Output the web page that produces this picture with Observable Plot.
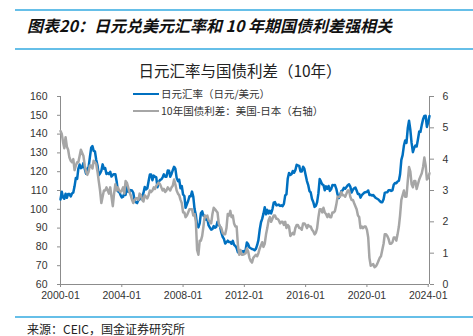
<!DOCTYPE html>
<html><head><meta charset="utf-8">
<script src="https://cdn.jsdelivr.net/npm/d3@7"></script>
<script src="https://cdn.jsdelivr.net/npm/@observablehq/plot@0.6"></script>
<style>
html,body{margin:0;padding:0;background:#fff;}
body{width:473px;height:336px;overflow:hidden;position:relative;font-family:"Noto Sans CJK SC","Liberation Sans",sans-serif;}
#chart{position:absolute;left:0;top:0;}
.rule{position:absolute;left:15px;width:470px;height:0;border-top:2px solid #66bfe8;}
#title{position:absolute;left:27px;top:15px;font-size:16px;font-weight:bold;font-style:italic;color:#111;white-space:nowrap;line-height:20px;}
#ctitle{position:absolute;left:0;width:480px;text-align:center;top:60px;font-size:15.5px;color:#222;line-height:20px;white-space:nowrap;}
.leg{position:absolute;left:133px;font-size:10.5px;color:#333;white-space:nowrap;line-height:14px;}
.leg span{display:inline-block;width:26px;height:0;border-top:2px solid;vertical-align:middle;margin-right:2px;position:relative;top:-1px;}
#source{position:absolute;left:27px;top:321px;font-size:12px;color:#222;white-space:nowrap;line-height:15px;}
</style>
</head><body>
<div class="rule" style="top:9px"></div>
<div id="title">图表20：日元兑美元汇率和 10 年期国债利差强相关</div>
<div class="rule" style="top:48px"></div>
<div id="chart"></div>
<div id="ctitle">日元汇率与国债利差（10年）</div>
<div class="leg" id="leg1" style="top:87px"></div>
<div class="leg" id="leg2" style="top:104px"></div>
<div class="rule" style="top:316px"></div>
<div id="source">来源：CEIC，国金证券研究所</div>
<script>
// Monthly series, starting 2000-01
const startYear = 2000;
const seriesNames = ["日元汇率（日元/美元）", "10年国债利差：美国-日本（右轴）"];
const seriesColors = ["#0070c0", "#a6a6a6"];
const usdjpy = [
105.2,109.3,106.3,105.6,108.3,106.1,108.2,108.1,106.8,108.4,108.9,112.2,
116.7,116.2,121.5,123.8,121.9,122.4,124.6,121.5,118.9,121.5,122.4,127.6,
132.7,133.6,131.1,130.8,126.4,123.3,118.1,119.0,120.5,123.9,121.6,121.9,
118.8,119.3,118.7,119.9,117.4,118.3,118.7,118.7,114.8,109.5,109.2,107.7,
106.3,106.7,108.5,107.7,112.2,109.4,109.4,110.2,110.0,108.8,104.7,103.8,
103.3,104.9,105.3,107.3,106.7,108.7,111.9,110.6,111.2,114.9,118.5,118.5,
115.5,117.9,117.3,117.1,111.7,114.6,115.6,115.9,117.0,118.6,117.3,117.3,
120.6,120.5,117.3,118.8,120.8,122.6,121.6,116.7,115.0,115.8,111.2,112.4,
107.9,107.1,100.8,102.7,104.4,106.9,106.9,109.4,106.6,100.1,96.9,91.3,
90.4,92.6,97.9,98.9,96.6,96.6,94.5,94.9,91.4,90.3,89.2,89.5,
91.1,90.2,90.6,93.4,91.8,90.9,87.7,85.4,84.3,81.8,82.5,83.3,
82.6,82.6,81.7,83.2,81.1,80.5,79.3,77.1,76.9,76.7,77.5,77.8,
76.9,78.5,82.4,81.4,79.7,79.3,78.9,78.7,78.2,78.9,80.9,83.6,
89.1,93.1,94.9,97.7,101.1,97.3,99.7,97.8,99.2,97.8,100.1,103.5,
103.8,102.1,102.3,102.5,101.8,102.1,101.7,102.9,107.4,108.0,116.4,119.3,
118.3,118.8,120.4,119.5,120.8,123.7,123.3,123.1,120.1,120.1,122.6,121.6,
118.2,115.0,113.0,109.7,109.0,105.5,103.9,101.3,101.9,103.8,108.6,116.1,
114.7,113.2,112.9,110.1,112.2,110.9,112.4,109.8,110.8,112.9,112.8,112.9,
110.9,107.8,106.0,107.6,109.7,110.1,111.4,111.0,111.9,112.8,113.3,112.1,
108.9,110.4,111.2,111.6,110.0,108.1,108.2,106.2,107.5,108.2,108.9,109.1,
109.3,110.0,107.6,107.8,107.3,107.6,106.7,106.0,105.6,105.2,104.4,103.8,
103.8,105.4,108.7,109.0,109.1,110.1,110.2,109.8,110.1,113.1,114.0,113.9,
114.8,115.2,118.5,126.3,128.8,133.9,136.6,135.3,143.1,147.1,142.3,135.3,
130.4,132.7,133.9,133.4,137.1,141.4,141.2,144.9,147.9,149.7,149.8,143.8,
146.3,149.6
];
const spread10y = [
4.9,4.8,4.55,4.35,4.7,4.4,4.3,4.05,3.95,3.9,4.0,3.65,
3.8,3.9,3.9,4.1,4.3,4.2,4.1,3.8,3.6,3.5,3.6,3.8,
3.8,3.7,3.95,3.9,3.85,3.6,3.3,3.0,2.6,2.8,3.0,3.0,
3.1,3.0,2.9,3.1,2.8,2.5,2.9,3.2,3.0,3.1,3.0,2.95,
3.0,3.1,2.9,3.3,3.25,3.1,2.95,2.85,2.7,2.6,2.7,2.75,
2.75,2.7,2.9,2.85,2.7,2.65,2.85,2.8,2.75,2.85,3.0,2.95,
3.0,3.1,3.05,3.15,3.2,3.25,3.2,3.1,3.0,3.05,2.95,3.0,
3.1,3.05,3.0,3.1,3.15,3.35,3.2,3.0,2.9,2.85,2.7,2.6,
2.3,2.3,2.15,2.2,2.3,2.4,2.4,2.4,2.2,2.25,2.0,1.1,
0.95,1.4,1.4,1.55,1.85,2.2,2.15,2.2,2.05,2.0,1.95,2.25,
2.45,2.4,2.35,2.3,1.95,1.85,1.8,1.65,1.6,1.6,1.8,2.25,
2.2,2.35,2.15,2.2,1.95,1.85,1.85,1.25,0.95,1.1,0.95,0.95,
0.97,1.0,1.15,1.05,0.85,0.75,0.7,0.85,0.9,0.95,0.9,1.0,
1.15,1.25,1.35,1.2,1.3,1.6,1.8,2.05,2.15,2.0,2.1,2.2,
2.2,2.1,2.1,2.05,1.95,2.0,2.0,1.9,2.0,1.8,1.9,1.85,
1.55,1.6,1.65,1.6,1.8,1.9,1.9,1.8,1.8,1.75,1.95,1.95,
1.9,1.8,1.9,1.85,1.85,1.75,1.7,1.6,1.65,1.8,2.15,2.4,
2.4,2.3,2.45,2.3,2.25,2.15,2.25,2.15,2.15,2.3,2.3,2.35,
2.55,2.8,2.8,2.8,2.95,2.85,2.85,2.8,2.9,3.0,3.0,2.8,
2.7,2.7,2.6,2.5,2.4,2.2,2.15,1.8,1.85,1.8,1.85,1.85,
1.75,1.5,0.85,0.6,0.62,0.65,0.55,0.58,0.65,0.75,0.85,0.9,
1.1,1.3,1.6,1.6,1.55,1.45,1.3,1.3,1.35,1.5,1.5,1.4,
1.6,1.85,2.2,2.7,2.85,3.0,2.8,2.8,3.3,3.75,3.6,3.2,
3.1,3.3,3.3,3.05,3.2,3.35,3.45,3.55,3.75,4.05,3.8,3.35,
3.4,3.55
];
const leftTicks = [60,70,80,90,100,110,120,130,140,150,160];
const rightTicks = [0,1,2,3,4,5,6];
const leftDomain = [60,160];
const rightDomain = [0,6];

const dateOf = i => new Date(Date.UTC(startYear, i, 1));
const fx = usdjpy.map((v,i)=>({date: dateOf(i), v}));
const sp = spread10y.map((v,i)=>({date: dateOf(i), v}));
const toLeft = r => leftDomain[0] + (r - rightDomain[0]) * (leftDomain[1]-leftDomain[0])/(rightDomain[1]-rightDomain[0]);
const toRight = l => rightDomain[0] + (l - leftDomain[0]) * (rightDomain[1]-rightDomain[0])/(leftDomain[1]-leftDomain[0]);
const xDomain = [dateOf(0), dateOf(usdjpy.length-1)];

const axisColor = "#8c8c8c";
const chart = Plot.plot({
  width: 473, height: 336,
  marginLeft: 60, marginRight: 44, marginTop: 96, marginBottom: 52,
  style: {fontFamily: "'Liberation Sans', Arial, sans-serif", fontSize: "10.5px", color: "#333", background: "transparent"},
  x: {type: "utc", domain: xDomain, label: null},
  y: {domain: leftDomain, label: null},
  marks: [
    Plot.axisY({anchor: "left", ticks: leftTicks, tickSize: 3, tickPadding: 10, stroke: axisColor, fill: "#333", label: null}),
    Plot.axisY(rightTicks.map(toLeft), {anchor: "right", tickSize: 4, tickPadding: 9, stroke: axisColor, fill: "#333", tickFormat: v => String(Math.round(toRight(v))), label: null}),
    Plot.axisX({ticks: d3.utcYear.every(4), tickFormat: d3.utcFormat("%Y-%m"), tickSize: 3, tickPadding: 4, stroke: axisColor, fill: "#333", label: null}),
    Plot.ruleX([xDomain[0], xDomain[1]], {stroke: axisColor, strokeWidth: 1}),
    Plot.ruleY([leftDomain[0]], {stroke: axisColor, strokeWidth: 1}),
    Plot.line(fx, {x: "date", y: "v", stroke: seriesColors[0], strokeWidth: 2.5}),
    Plot.line(sp, {x: "date", y: d => toLeft(d.v), stroke: seriesColors[1], strokeWidth: 2.5})
  ]
});
document.getElementById("chart").appendChild(chart);
document.getElementById("leg1").innerHTML = `<span style="border-color:${seriesColors[0]}"></span>${seriesNames[0]}`;
document.getElementById("leg2").innerHTML = `<span style="border-color:${seriesColors[1]}"></span>${seriesNames[1]}`;
</script>
</body></html>
